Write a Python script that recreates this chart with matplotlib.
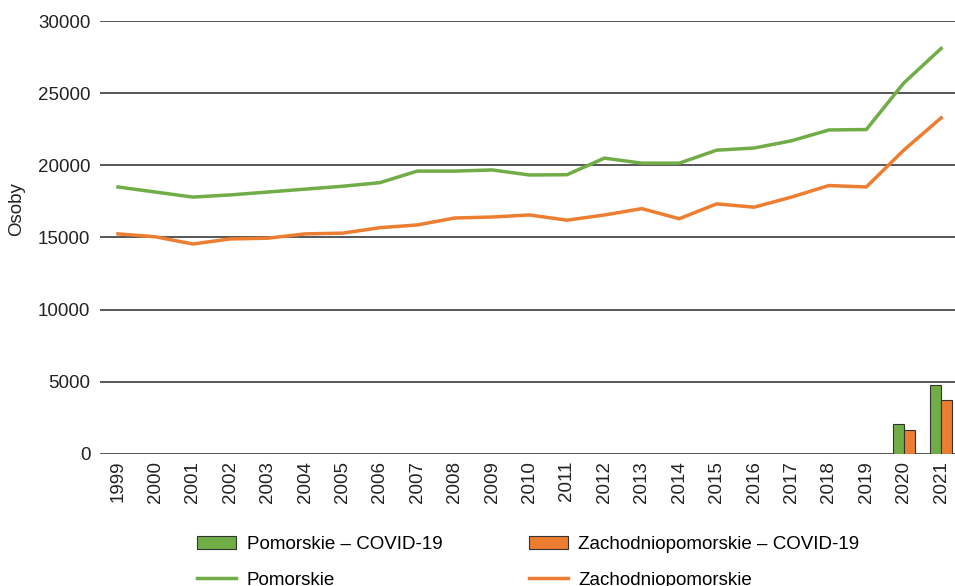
import matplotlib
matplotlib.use("Agg")
import matplotlib.pyplot as plt
import numpy as np
from matplotlib.patches import Patch
from matplotlib.lines import Line2D

plt.rcParams['font.family'] = ['Liberation Sans', 'DejaVu Sans']

years = [str(y) for y in range(1999, 2022)]
pomorskie = [18500, 18150, 17800, 17950, 18150, 18350, 18550, 18800, 19600, 19600, 19680,
             19330, 19350, 20500, 20150, 20150, 21050, 21200, 21700, 22450, 22480, 25700, 28100]
zachodnio = [15250, 15050, 14550, 14900, 14950, 15250, 15300, 15680, 15870, 16350, 16420,
             16560, 16200, 16560, 17000, 16300, 17330, 17100, 17800, 18600, 18500, 21050, 23290]
covid_years = ['2020', '2021']
covid_pom = [2080, 4780]
covid_zach = [1660, 3740]

green = '#70AD47'
orange = '#ED7D31'
fs = 13.5

fig = plt.figure(figsize=(9.55, 5.86), dpi=100)
ax = fig.add_axes([100/955, 1-454/586, 855/955, 433/586])

x = np.arange(len(years))
ax.plot(x, pomorskie, color=green, lw=2.5, zorder=3)
ax.plot(x, zachodnio, color=orange, lw=2.5, zorder=3)

cx = np.array([years.index(y) for y in covid_years])
w = 0.3
ax.bar(cx - w/2, covid_pom, width=w, color=green, edgecolor='#333333', lw=0.8, zorder=3)
ax.bar(cx + w/2, covid_zach, width=w, color=orange, edgecolor='#333333', lw=0.8, zorder=3)

ax.set_ylim(0, 30000)
ax.set_xlim(-0.48, len(years) - 1 + 0.37)
ax.set_yticks(range(0, 30001, 5000))
ax.yaxis.grid(True, color='#3a3a3a', lw=1.2)
ax.set_axisbelow(True)
ax.set_xticks(x)
ax.set_xticklabels(years, rotation=90, fontsize=fs, color='#222222')
ax.tick_params(axis='y', length=0, pad=7, labelsize=fs, labelcolor='#222222')
ax.tick_params(axis='x', length=0, pad=5)
for s in ax.spines.values():
    s.set_visible(False)
ax.set_ylabel('Osoby', fontsize=fs, color='#222222')
ax.yaxis.set_label_coords(-0.088, 0.565)

handles = [Patch(facecolor=green, edgecolor='#333333', lw=0.8),
           Line2D([0], [0], color=green, lw=2.5),
           Patch(facecolor=orange, edgecolor='#333333', lw=0.8),
           Line2D([0], [0], color=orange, lw=2.5)]
labels = ['Pomorskie – COVID-19', 'Pomorskie',
          'Zachodniopomorskie – COVID-19', 'Zachodniopomorskie']
fig.legend(handles, labels, ncol=2, loc='upper left', bbox_to_anchor=(197/955, 1-536/586),
           frameon=False, fontsize=fs, handlelength=2.1, handleheight=0.7, handletextpad=0.55,
           columnspacing=4.6, labelspacing=1.0, borderaxespad=0, borderpad=0)

fig.savefig('out.png', dpi=100)
